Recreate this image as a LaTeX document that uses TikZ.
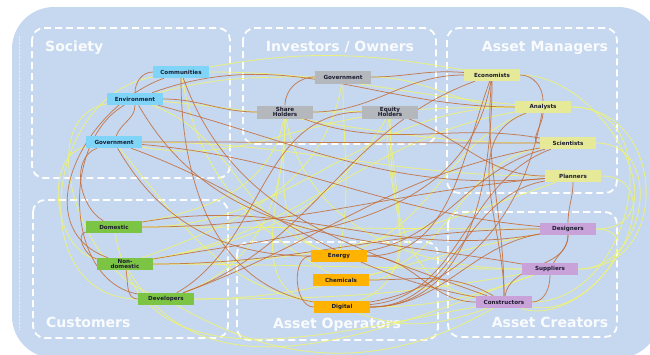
\documentclass[tikz,border=0pt]{standalone}
\usepackage{fontspec}
\setmainfont{DejaVu Sans}
\usepackage{tikz}
\usetikzlibrary{positioning}

\definecolor{bgblue}{RGB}{197,216,240}
\definecolor{socc}{RGB}{128,212,248}
\definecolor{invc}{RGB}{180,184,188}
\definecolor{amc}{RGB}{230,234,152}
\definecolor{cusc}{RGB}{124,196,68}
\definecolor{aoc}{RGB}{255,178,0}
\definecolor{acc}{RGB}{200,162,216}
\definecolor{txt}{RGB}{28,28,48}
\definecolor{brn}{RGB}{196,106,52}
\definecolor{yel}{RGB}{238,242,118}

\pgfdeclarelayer{back}
\pgfdeclarelayer{wires}
\pgfsetlayers{back,wires,main}

\begin{document}
\begin{tikzpicture}[x=1pt,y=-1pt,node distance=25pt,
    box/.style={minimum width=56pt,minimum height=12pt,inner sep=0pt,align=center,
      font=\fontsize{5.6}{5.7}\selectfont\bfseries,text=txt},
    soc/.style={box,fill=socc},
    inv/.style={box,fill=invc,minimum height=13pt},
    am/.style={box,fill=amc},
    cus/.style={box,fill=cusc},
    ao/.style={box,fill=aoc},
    ac/.style={box,fill=acc},
    grp/.style={draw=white,line width=1.8pt,dash pattern=on 7pt off 4pt,rounded corners=12pt},
    ttl/.style={text=white,text opacity=.9,font=\fontsize{14}{15}\selectfont\bfseries,inner sep=0pt},
    brnline/.style={draw=brn,line width=.75pt,draw opacity=.85},
    yelline/.style={draw=yel,line width=.8pt,draw opacity=.95}]
  \useasboundingbox (0,0) rectangle (650,354);

  \node[soc] (com) at (181,72) {Communities};
  \node[soc] (env) at (135,99) {Environment};
  \node[soc] (sgov) at (114,142) {Government};

  \node[inv] (igov) at (343,77) {Government};
  \node[inv] (sh) at (285,112) {Share\\Holders};
  \node[inv] (eh) at (390,112) {Equity\\Holders};

  \node[am] (eco) at (492,75) {Economists};
  \node[am] (ana) at (543,107) {Analysts};
  \node[am] (sci) at (568,143) {Scientists};
  \node[am] (pla) at (573,176) {Planners};

  \node[cus] (dom) at (114,227) {Domestic};
  \node[cus] (non) at (125,264) {Non-\\domestic};
  \node[cus] (dev) at (166,299) {Developers};

  \node[ao] (ene) at (339,256) {Energy};
  \node[ao] (che) [below of=ene,xshift=2pt,node distance=24pt] {Chemicals};
  \node[ao] (dig) [below of=che,xshift=1pt,node distance=27pt] {Digital};

  \node[ac] (des) at (568,229) {Designers};
  \node[ac] (sup) at (550,269) {Suppliers};
  \node[ac] (con) at (504,302) {Constructors};

  \begin{pgfonlayer}{back}
    \fill[bgblue,rounded corners=42pt] (12,7) rectangle (660,358);
    \draw[white,draw opacity=.5,line width=.4pt,densely dotted] (19,36) -- (19,330);
    \draw[grp] (32,28) rectangle (230,178);
    \draw[grp] (243,28) rectangle (436,144);
    \draw[grp] (447,28) rectangle (617,193);
    \draw[grp] (33,200) rectangle (228,338);
    \draw[grp] (237,242) rectangle (438,340);
    \draw[grp] (448,212) rectangle (617,337);
    \node[ttl,anchor=west] (t-soc) at (45,48) {Society};
    \node[ttl] (t-inv) at (340,47) {Investors / Owners};
    \node[ttl] (t-am) at (545,48) {Asset Managers};
    \node[ttl,anchor=west] (t-cus) at (46,322) {Customers};
    \node[ttl] (t-ao) at (337,325) {Asset Operators};
    \node[ttl] (t-ac) at (550,322) {Asset Creators};
  \end{pgfonlayer}

  \begin{pgfonlayer}{wires}
    \path[yelline]
    (com) edge[out=10,in=170] (eco)
    (com) edge[out=0,in=175] (ana)
    (com) edge[out=190,in=180,looseness=1.3] (dev)
    (env) edge[out=190,in=160] (dev)
    (env) edge[out=-5,in=180] (sci)
    (env) edge[out=15,in=180] (igov)
    (sgov) edge[out=0,in=180] (pla)
    (sgov) edge[out=-50,in=170] (dig)
    (sgov) edge[out=190,in=170] (non)
    (igov) edge[out=-90,in=80] (ene)
    (igov) edge[out=-100,in=20] (non)
    (igov) edge[out=0,in=180] (ana)
    (sh) edge[out=-90,in=160] (ene)
    (sh) edge[out=-90,in=170] (dig)
    (sh) edge[out=-100,in=10] (dom)
    (sh) edge[out=-90,in=20] (dev)
    (sh) edge[out=-80,in=180] (sup)
    (eh) edge[out=-90,in=20] (dig)
    (eh) edge[out=-90,in=170] (con)
    (eh) edge[out=-100,in=0] (che)
    (eh) edge[out=-120,in=10] (non)
    (eh) edge[out=190,in=-10] (sgov)
    (ana) edge[out=180,in=0] (dom)
    (ana) edge[out=190,in=10] (non)
    (ana) edge[out=180,in=0] (sh)
    (ana) edge[out=0,in=0,looseness=1.3] (con)
    (ana) edge[out=0,in=0,looseness=1.5] (sup)
    (sci) edge[out=0,in=0,looseness=1.4] (sup)
    (pla) edge[out=0,in=-10,looseness=1.3] (con)
    (pla) edge[out=200,in=0] (non)
    (eco) edge[out=0,in=0,looseness=1.3] (des)
    (des) edge[out=0,in=-20,looseness=1.4] (con)
    (dev) edge[out=-30,in=-150] (con)
    (non) edge[out=-60,in=-160] (sup)
    (dom) edge[out=-80,in=-170,looseness=1.1] (con)
    (dom) edge[out=0,in=180] (des)
    (non) edge[out=0,in=180] (sup)
    (dev) edge[out=0,in=190] (des)
    (sup) edge[out=-170,in=0] (dev)
    (ene) edge[out=20,in=200] (ana)
    (ene) edge[out=160,in=-20] (env)
    (che) edge[out=10,in=190] (sci)
    (com) edge[out=-80,in=150] (che)
    (dig) edge[out=0,in=200] (sup)
    (dig) edge[out=-20,in=-160] (con)
    ;
    \path[brnline]
    (com) edge[out=180,in=90] (env)
    (env) edge[out=-90,in=70] (sgov)
    (com) edge[out=200,in=160,looseness=1.2] (non)
    (env) edge[out=210,in=170] (dev)
    (sgov) edge[out=200,in=150] (dom)
    (dom) edge[out=190,in=170] (non)
    (non) edge[out=-80,in=180] (dev)
    (com) edge[out=-90,in=170] (dig)
    (com) edge[out=-70,in=160] (con)
    (env) edge[out=-15,in=185] (pla)
    (env) edge[out=-60,in=170] (sup)
    (sgov) edge[out=0,in=180] (sci)
    (sgov) edge[out=-5,in=175] (des)
    (sgov) edge[out=-60,in=180] (ene)
    (igov) edge[out=180,in=90] (sh)
    (igov) edge[out=0,in=175] (eco)
    (sh) edge[out=0,in=180] (eco)
    (sh) edge[out=180,in=0] (env)
    (sh) edge[out=-20,in=170] (sci)
    (eh) edge[out=180,in=30] (dev)
    (eh) edge[out=-20,in=180] (pla)
    (eco) edge[out=0,in=90] (ana)
    (ana) edge[out=-90,in=180] (sci)
    (eco) edge[out=-90,in=0] (dig)
    (eco) edge[out=-95,in=90] (con)
    (eco) edge[out=-100,in=10] (non)
    (eco) edge[out=-110,in=0] (ene)
    (pla) edge[out=-90,in=90] (des)
    (des) edge[out=-90,in=60] (sup)
    (des) edge[out=-90,in=80] (con)
    (sup) edge[out=-90,in=0] (con)
    (dig) edge[out=10,in=-100] (ana)
    (dig) edge[out=5,in=200] (sci)
    (dig) edge[out=0,in=190] (pla)
    (dig) edge[out=0,in=190] (des)
    (ene) edge[out=180,in=180] (dig)
    (ene) edge[out=10,in=195] (sci)
    (che) edge[out=0,in=150] (con)
    (dom) edge[out=0,in=185] (pla)
    (non) edge[out=0,in=180] (des)
    (dev) edge[out=20,in=200] (eco)
    (con) edge[out=170,in=-20] (sgov)
    (con) edge[out=180,in=0] (ene)
    (ana) edge[out=200,in=90] (con)
    (ana) edge[out=180,in=20] (env)
    (sci) edge[out=190,in=20] (dev)
    (des) edge[out=190,in=10] (dom)
    ;
  \end{pgfonlayer}
\end{tikzpicture}
\end{document}
